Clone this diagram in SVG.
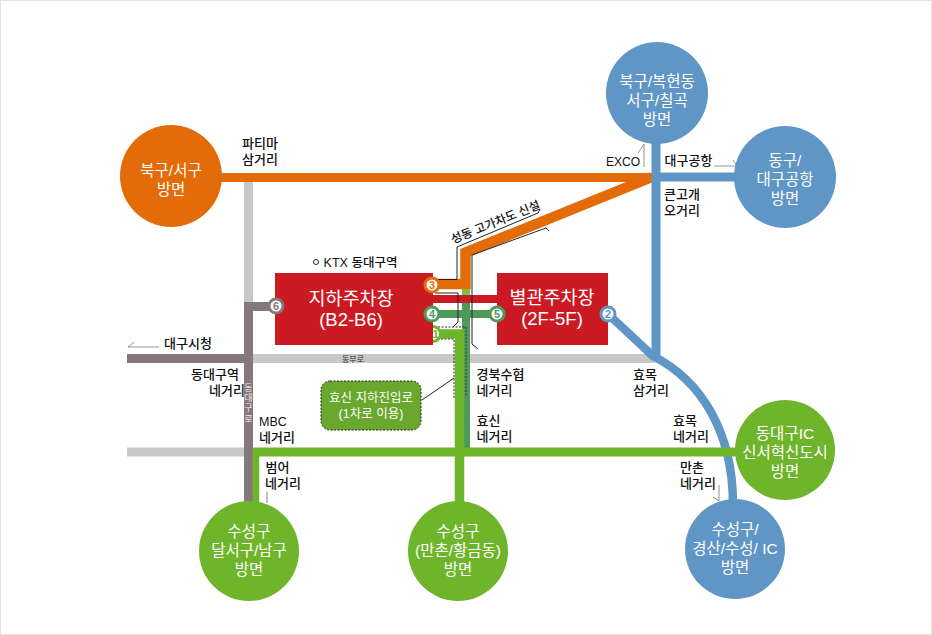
<svg xmlns="http://www.w3.org/2000/svg" width="932" height="635" viewBox="0 0 932 635">
<style>
text{font-family:"Liberation Sans","Noto Sans CJK KR",sans-serif;text-anchor:middle}
.l{font-size:13px;fill:#111;font-weight:500}
.n{font-size:15.500px;fill:#fff}
.b{font-size:18.500px;fill:#fff}
.road{fill:none;stroke-linejoin:miter}
.thin{fill:none;stroke:#222;stroke-width:1}
.dot{fill:none;stroke:#333;stroke-width:1;stroke-dasharray:2 1.500}
.lead{fill:none;stroke:#777;stroke-width:.8}
.badge{fill:#fff;stroke-width:3}
.bt{font-size:11px;font-weight:700}
.v{font-size:9px;fill:#eee}
</style>
<rect x="0.500" y="0.500" width="931" height="634" fill="#fff" stroke="#e2e2e2"/>
<g id="connectors">
<path class="road" d="M248.500 182V302M253 358.500H655M127 452H245" stroke="#c8c8c8" stroke-width="9"/>
<path class="road" d="M248.500 502V306.500H272M127 358.500H248" stroke="#85787c" stroke-width="9"/>
<path class="road" d="M466 290V452" stroke="#4d9a5b" stroke-width="8"/>
<path class="road" d="M466 288V296" stroke="#7cc242" stroke-width="8"/>
<path class="road" d="M432 334H459.500V505" stroke="#6fb52b" stroke-width="9.500"/>
<path class="road" d="M432 299H498" stroke="#cc1a22" stroke-width="8"/>
<path class="road" d="M432 314H498" stroke="#4d9a5b" stroke-width="8"/>
<path class="road" d="M432 284H465.500V252.500L652 177" stroke="#e36c09" stroke-width="10.500"/>
<path class="road" d="M218 177.500H652" stroke="#e36c09" stroke-width="9"/>
<path class="road" d="M656 138V358M656 177H745" stroke="#5f96c6" stroke-width="9"/>
<path class="road" d="M608 314L653 356C700 380 733 430 733 505" stroke="#5f96c6" stroke-width="8.500"/>
<path class="road" d="M256 505V452H760" stroke="#6fb52b" stroke-width="6.500"/>
<path class="road" d="M253 452H760" stroke="#6fb52b" stroke-width="9"/>
<path class="thin" d="M435 279.500H457V247L538 213L540 209M472 255L546 228L549 231M472 255V344L478 349M435 293H458V322L453 327"/>
<path class="dot" d="M438 327H466V397M441 339H454V398"/>
<path class="thin" d="M422 400L454 378"/>
<path class="lead" d="M134 342L128 347H159M638 153L644 144V167M714 166H737L733 160M713 497L719 501V485"/>
<path d="M267 492V503" stroke="#aaa" stroke-width="1.500"/>
</g>
<g id="node-underground"><rect x="275" y="273" width="158" height="72" fill="#cc1a22"/><text class="b" x="351" y="305">지하주차장</text><text class="b" x="351" y="326">(B2-B6)</text></g>
<g id="node-annex"><rect x="497" y="273" width="111" height="72" fill="#cc1a22"/><text class="b" x="552" y="304">별관주차장</text><text class="b" x="552" y="325">(2F-5F)</text></g>
<g id="badges">
<circle class="badge" cx="432" cy="285" r="7" stroke="#e36c09"/><text class="bt" x="432" y="289" fill="#e36c09">3</text>
<circle class="badge" cx="432" cy="314" r="7" stroke="#4d9a5b"/><text class="bt" x="432" y="318" fill="#4d9a5b">4</text>
<circle class="badge" cx="497" cy="314" r="7" stroke="#4d9a5b"/><text class="bt" x="497" y="318" fill="#4d9a5b">5</text>
<circle class="badge" cx="608" cy="314" r="7" stroke="#5f96c6"/><text class="bt" x="608" y="318" fill="#5f96c6">2</text>
<circle class="badge" cx="276" cy="306" r="7" stroke="#85787c"/><text class="bt" x="276" y="310" fill="#85787c">6</text>
<path d="M433 326.500A7.500 7.500 0 0 1 433 341.500Z" fill="#fff"/><path d="M433 326.500A7.500 7.500 0 0 1 433 341.500" fill="none" stroke="#6fb52b" stroke-width="3"/><text class="bt" x="435.500" y="338" fill="#6fb52b">1</text>
</g>
<g id="node-hyoshin"><rect x="321" y="381" width="100" height="49" rx="9" fill="#6aa72d" stroke="#222" stroke-width="1" stroke-dasharray="2 1.500"/><text x="371" y="402" font-size="12.500" fill="#fff">효신 지하진입로</text><text x="371" y="418" font-size="12.500" fill="#fff">(1차로 이용)</text></g>
<g id="node-buk-seo"><circle cx="171" cy="176" r="51" fill="#e36c09"/><text class="n" x="171" y="176">북구/서구</text><text class="n" x="171" y="195">방면</text></g>
<g id="node-buk-bok"><circle cx="657" cy="93" r="51" fill="#5f96c6"/><text class="n" x="657" y="87">북구/복현동</text><text class="n" x="657" y="106">서구/칠곡</text><text class="n" x="657" y="125">방면</text></g>
<g id="node-dong"><circle cx="785" cy="177" r="51" fill="#5f96c6"/><text class="n" x="785" y="166">동구/</text><text class="n" x="785" y="185">대구공항</text><text class="n" x="785" y="204">방면</text></g>
<g id="node-dongdaegu-ic"><circle cx="785" cy="450" r="50" fill="#6fb52b"/><text class="n" x="785" y="439">동대구IC</text><text class="n" x="785" y="458">신서혁신도시</text><text class="n" x="785" y="477">방면</text></g>
<g id="node-suseong-dal"><circle cx="249" cy="551" r="50" fill="#6fb52b"/><text class="n" x="249" y="537">수성구</text><text class="n" x="249" y="556">달서구/남구</text><text class="n" x="249" y="575">방면</text></g>
<g id="node-suseong-man"><circle cx="458" cy="551" r="50" fill="#6fb52b"/><text class="n" x="458" y="537">수성구</text><text class="n" x="458" y="556">(만촌/황금동)</text><text class="n" x="458" y="575">방면</text></g>
<g id="node-suseong-gyeong"><circle cx="735" cy="549" r="50" fill="#5f96c6"/><text class="n" x="735" y="535">수성구/</text><text class="n" x="735" y="554">경산/수성/ IC</text><text class="n" x="735" y="573">방면</text></g>
<g id="labels">
<text class="l" x="260" y="148">파티마</text><text class="l" x="260" y="164">삼거리</text>
<text class="l" x="623" y="166" style="font-size:12px">EXCO</text>
<text class="l" x="688.500" y="165">대구공항</text>
<text class="l" x="682" y="199">큰고개</text><text class="l" x="682" y="215">오거리</text>
<text font-size="12" fill="#111" font-weight="500" transform="translate(497 226) rotate(-22)">성동 고가차도 신설</text>
<circle cx="316" cy="262" r="2.500" fill="none" stroke="#222"/>
<text class="l" x="360.500" y="267" style="font-size:12.500px">KTX 동대구역</text>
<text class="l" x="188" y="348">대구시청</text>
<text x="353" y="361.500" font-size="8" fill="#333">동부로</text>
<text class="l" x="215" y="379">동대구역</text><text class="l" x="227" y="395">네거리</text>
<text class="v" x="248.500" y="391">동</text><text class="v" x="248.500" y="401">대</text><text class="v" x="248.500" y="411">구</text><text class="v" x="248.500" y="422">로</text>
<text class="l" x="273" y="426" style="font-size:12.500px">MBC</text><text class="l" x="277" y="442">네거리</text>
<text class="l" x="277.500" y="472">범어</text><text class="l" x="283" y="488">네거리</text>
<text class="l" x="500.500" y="379">경북수협</text><text class="l" x="494.500" y="395">네거리</text>
<text class="l" x="488.500" y="425">효신</text><text class="l" x="494.500" y="441">네거리</text>
<text class="l" x="645" y="379">효목</text><text class="l" x="651" y="395">삼거리</text>
<text class="l" x="685" y="425">효목</text><text class="l" x="691" y="441">네거리</text>
<text class="l" x="692" y="472">만촌</text><text class="l" x="698" y="488">네거리</text>
</g>
</svg>
